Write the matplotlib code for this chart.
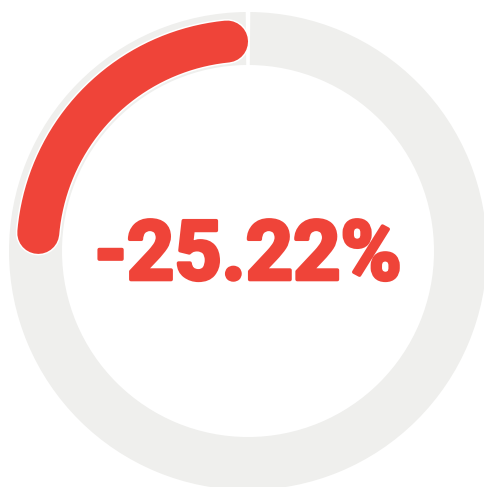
import numpy as np
import matplotlib
matplotlib.use("Agg")
import matplotlib.pyplot as plt
from matplotlib.patches import Wedge
import matplotlib.patheffects as pe

# data
change_pct = -25.22
label = f"{change_pct:.2f}%"

red = "#ef4439"
grey = "#efefed"

W, H = 485, 487
fig = plt.figure(figsize=(W / 100, H / 100), dpi=100)
ax = fig.add_axes([0, 0, 1, 1])
ax.set_xlim(0, W)
ax.set_ylim(0, H)
ax.set_aspect("equal")
ax.axis("off")

cx, cy = 248, H - 251
r_out, ring_w = 239, 53

# grey background ring, small gap at the top
gap = 0.55
ax.add_patch(Wedge((cx, cy), r_out, 90 + gap, 90 - gap + 360, width=ring_w,
                   facecolor=grey, edgecolor="none"))

# red arc with round caps, counterclockwise from the top
r_mid = 210.5
lw_px = 42
span = abs(change_pct) / 100 * 360
cap = np.degrees((lw_px / 2) / r_mid)
theta = np.radians(np.linspace(90 + cap, 90 + span - cap, 200))
ax.plot(cx + r_mid * np.cos(theta), cy + r_mid * np.sin(theta),
        color=red, lw=lw_px * 72 / 100, solid_capstyle="round",
        path_effects=[pe.Stroke(linewidth=(lw_px + 3) * 72 / 100, foreground="white"),
                      pe.Normal()])

# heavy label: bold Roboto thickened with a stroke of the same colour
ax.text(cx, H - 279.5, label, ha="center", va="baseline", color=red,
        fontsize=59.5, fontweight="bold", family=["Roboto", "DejaVu Sans"],
        path_effects=[pe.Stroke(linewidth=2.6, foreground=red), pe.Normal()])

fig.savefig("out.png", dpi=100)
